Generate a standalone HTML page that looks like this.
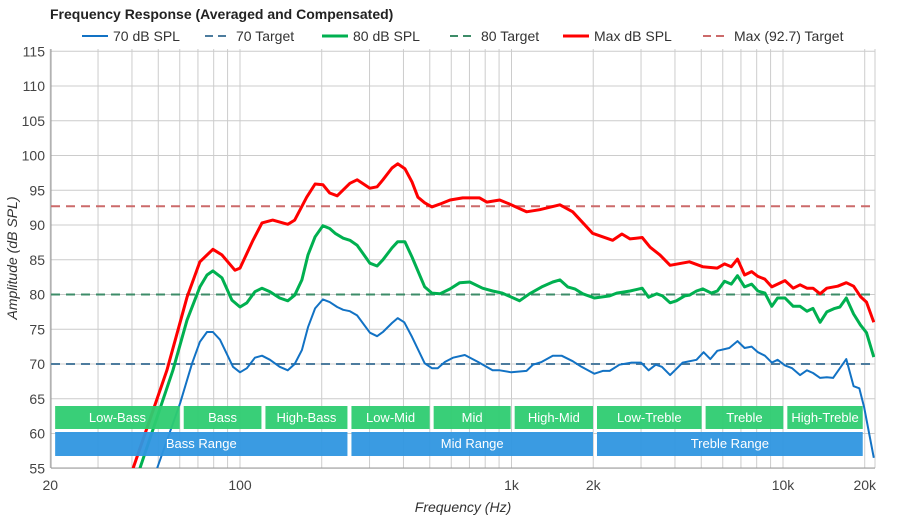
<!DOCTYPE html>
<html><head><meta charset="utf-8"><style>
body{margin:0;background:#fff;}
svg{display:block;font-family:"Liberation Sans",Arial,sans-serif;}
</style></head><body>
<svg id="c" width="900" height="520"></svg>
<script>
const freqRed=[40.4,53.8,63.8,71.2,79.5,85.8,95.8,100,111.7,120.5,132,150,159,176,189,202,214,228,254,270,301,320,336,363,381,405,430,452,479,509,545,594,661,763,811,905,985,1136,1270,1508,1680,1990,2360,2550,2735,3030,3240,3520,3840,4520,5060,5730,6090,6450,6800,7220,7660,8080,8580,9090,10170,10900,11560,12250,12900,13700,14500,15900,17100,18200,19300,20300,21600];
const dbRed=[55,69.1,79.6,84.7,86.5,85.7,83.5,83.8,87.8,90.3,90.7,90.1,90.7,94,95.9,95.8,94.6,94.2,96,96.5,95.3,95.5,96.5,98.2,98.8,98.1,96.2,94,93.2,92.6,93,93.6,93.9,93.9,93.3,93.6,93,91.9,92.2,92.9,91.9,88.8,87.8,88.7,88,88.2,86.8,85.7,84.2,84.7,84,83.8,84.4,84,85.1,82.8,83.3,82.6,82.2,81.1,82,80.9,81.4,80.9,80.9,80.1,80.9,81.2,81.7,81.2,79.7,78.9,76];
const freqGreen=[42.8,56.6,63.8,71.2,75.6,79.5,85.8,93.4,100,106,113.5,120.5,129,140,150,159,169,178,189,202,214,224,240,254,270,301,320,336,363,381,405,430,479,509,545,594,645,702,782,852,925,1070,1165,1292,1420,1508,1610,1710,1830,2020,2300,2440,2735,3030,3200,3430,3600,3840,4050,4340,4520,4800,5060,5450,5730,6090,6450,6800,7220,7660,8080,8580,9090,9550,10170,10900,11560,12250,12900,13700,14500,15500,16200,17100,18200,19300,20300,21600];
const dbGreen=[55,69.1,76.3,81.1,82.8,83.4,82.4,79.2,78.2,78.8,80.4,80.9,80.4,79.5,79.1,79.9,82.1,85.7,88.3,89.9,89.5,88.8,88.1,87.8,87.1,84.5,84.1,85,86.7,87.6,87.6,85.4,81.1,80.2,80.1,80.8,81.7,81.8,80.9,80.5,80.2,79.1,80.1,81.1,81.8,82.1,81.1,80.8,80.1,79.5,79.8,80.2,80.5,80.9,79.6,80.1,79.8,78.8,79.1,79.8,79.9,80.5,80.8,80.2,80.5,81.9,81.5,82.7,81.1,81.5,80.5,80.2,78.3,79.5,79.5,78.3,78.3,77.6,78,76,77.5,78,78.2,79.5,77.2,75.6,74.5,71];
const freqBlue=[49.5,60.2,66.6,71.2,75.6,79.5,84.4,94.2,100,106,113.5,120.5,129,140,150,159,169,178,189,202,214,228,240,254,270,301,320,336,363,381,403,430,479,509,535,569,609,673,752,852,905,998,1136,1200,1292,1420,1530,1680,1810,2020,2170,2300,2500,2770,3000,3200,3400,3580,3840,4270,4800,5100,5400,5730,6340,6800,7220,7660,8080,8580,9090,9550,10170,10800,11560,12250,12900,13700,14500,15300,17100,18200,19100,19900,21600];
const dbBlue=[55,64.4,70.1,73.2,74.6,74.6,73.5,69.6,68.8,69.4,70.9,71.2,70.6,69.6,69.1,70,72,75.3,78,79.3,78.9,78.2,77.8,77.6,77,74.5,74,74.6,75.9,76.6,76,73.9,70.1,69.4,69.4,70.3,70.9,71.3,70.3,69.1,69.1,68.8,69,69.9,70.3,71.2,71.2,70.4,69.6,68.6,69,69,69.9,70.2,70.2,69.1,69.9,69.6,68.4,70.2,70.6,71.7,70.7,71.9,72.3,73.3,72.3,72.5,71.7,71.2,70.2,70.6,69.8,69.4,68.4,69.1,68.7,68,68.1,68,70.7,66.8,66.5,63.8,56.5];
const targets=[70,80,92.7];
const yTicks=[55,60,65,70,75,80,85,90,95,100,105,110,115];
const xTickVals=[20,100,1000,2000,10000,20000];
const xTickLabels=["20","100","1k","2k","10k","20k"];
const bandNames=["Low-Bass","Bass","High-Bass","Low-Mid","Mid","High-Mid","Low-Treble","Treble","High-Treble"];
const bandEdges=[20.5,61,122,253,508,1010,2030,5100,10200,20000];
const rangeNames=["Bass Range","Mid Range","Treble Range"];
const rangeEdges=[20.5,253,2030,20000];

const L=51,R=875,T=49,B=468;
const X=f=>240+(Math.log10(f)-2)*271.5;
const Y=v=>294.5-(v-80)*6.95;
const NS="http://www.w3.org/2000/svg";
const svg=document.getElementById('c');
function mk(t,a,p){const e=document.createElementNS(NS,t);for(const k in a)e.setAttribute(k,a[k]);(p||svg).appendChild(e);return e;}
mk('rect',{x:0,y:0,width:900,height:520,fill:'#fff'});
const grid=mk('g',{});


for(const v of yTicks){mk('line',{x1:L,x2:R,y1:Y(v),y2:Y(v),stroke:'#cccccc','stroke-width':1},grid);
 const t=mk('text',{x:45,y:Y(v)+5,'text-anchor':'end','font-size':14,fill:'#444'});t.textContent=v;
 
 }
for(let d=10;d<=10000;d*=10)for(let k=1;k<=9;k++){const f=d*k;if(f<20||f>21800)continue;
 mk('line',{x1:X(f),x2:X(f),y1:T,y2:B,stroke:'#cccccc','stroke-width':1},grid);}
mk('line',{x1:R,x2:R,y1:T,y2:B,stroke:'#cccccc'},grid);
mk('line',{x1:L,x2:L,y1:T,y2:B,stroke:'#999'},grid);
mk('line',{x1:L,x2:R,y1:B,y2:B,stroke:'#999'},grid);
xTickVals.forEach((f,i)=>{const t=mk('text',{x:X(f),y:490,'text-anchor':'middle','font-size':14,fill:'#444'});t.textContent=xTickLabels[i];
 
 });
mk('clipPath',{id:'cp'});
mk('rect',{x:L,y:T,width:R-L,height:B-T},document.getElementById('cp'));
const plot=mk('g',{'clip-path':'url(#cp)'});
const tcol=['#4d7c9e','#3d8c68','#cc6a6a'];
targets.forEach((v,i)=>{const l=mk('line',{x1:L,x2:R,y1:Y(v),y2:Y(v),stroke:tcol[i],'stroke-width':2,'stroke-dasharray':'9,6'},plot);
 
 });
function series(fs,vs,col,w,name){const p=mk('path',{d:fs.map((f,i)=>(i?'L':'M')+X(f).toFixed(1)+','+Y(vs[i]).toFixed(1)).join(''),fill:'none',stroke:col,'stroke-width':w,'stroke-linejoin':'round'},plot);
 
 }
series(freqBlue,dbBlue,'#1272c4',2,'series-70db');
series(freqGreen,dbGreen,'#00b050',3,'series-80db');
series(freqRed,dbRed,'#ff0000',3,'series-max-db');
bandNames.forEach((n,i)=>{const x1=X(bandEdges[i])+2,x2=X(bandEdges[i+1])-2;
 const r=mk('rect',{x:x1,y:406,width:x2-x1,height:23,fill:'#2ecc71','fill-opacity':0.95});
 
 
 const t=mk('text',{x:(x1+x2)/2,y:422,'text-anchor':'middle','font-size':13,fill:'#fff'});t.textContent=n;});
rangeNames.forEach((n,i)=>{const x1=X(rangeEdges[i])+2,x2=X(rangeEdges[i+1])-2;
 const r=mk('rect',{x:x1,y:432,width:x2-x1,height:24,fill:'#2f96e0','fill-opacity':0.95});
 
 
 const t=mk('text',{x:(x1+x2)/2,y:448,'text-anchor':'middle','font-size':13,fill:'#fff'});t.textContent=n;});
const tt=mk('text',{x:50,y:19,'font-size':14,'font-weight':'bold',fill:'#222'});tt.textContent='Frequency Response (Averaged and Compensated)';


const xt=mk('text',{x:463,y:512,'text-anchor':'middle','font-size':14,'font-style':'italic',fill:'#333'});xt.textContent='Frequency (Hz)';


const yt=mk('text',{x:17,y:258,'text-anchor':'middle','font-size':14,'font-style':'italic',fill:'#333',transform:'rotate(-90 17 258)'});yt.textContent='Amplitude (dB SPL)';


const leg=[[82,'#1272c4',2,null,'70 dB SPL'],[205,'#4d7c9e',2,'8,5','70 Target'],[322,'#00b050',3,null,'80 dB SPL'],[450,'#3d8c68',2,'8,5','80 Target'],[563,'#ff0000',3,null,'Max dB SPL'],[703,'#cc6a6a',2,'8,5','Max (92.7) Target']];
leg.forEach(e=>{const g=mk('g',{});
 
 
 const a={x1:e[0],x2:e[0]+26,y1:36,y2:36,stroke:e[1],'stroke-width':e[2]};if(e[3])a['stroke-dasharray']=e[3];mk('line',a,g);
 const t=mk('text',{x:e[0]+31,y:41,'font-size':14,fill:'#333'},g);t.textContent=e[4];});
</script>
</body></html>
